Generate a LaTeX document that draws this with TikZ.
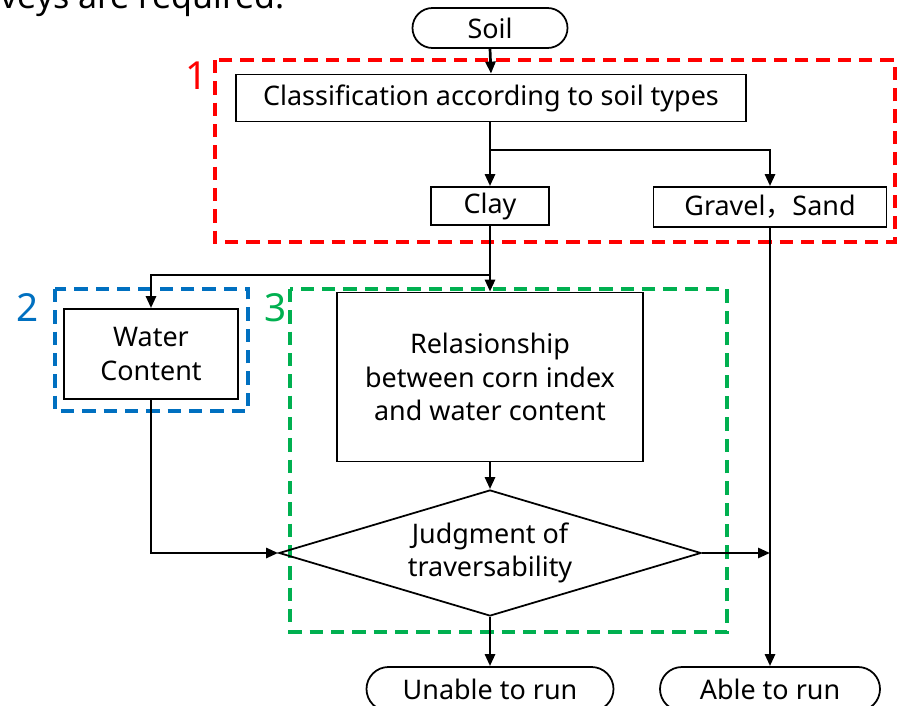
\documentclass[tikz,border=0pt]{standalone}
\usepackage{fontspec}
\setmainfont{Noto Sans}
\newfontfamily\jpfont{Noto Sans CJK JP}
\usepackage{tikz}
\usetikzlibrary{arrows.meta,shapes.misc,shapes.geometric}

\definecolor{boxred}{RGB}{255,0,0}
\definecolor{boxblue}{RGB}{0,112,192}
\definecolor{boxgreen}{RGB}{0,176,80}

\begin{document}
\begin{tikzpicture}[x=0.03cm, y=-0.03cm, >={Triangle[length=0.36cm,width=0.3cm]},
  font=\fontsize{23}{28.5}\selectfont,
  stepbox/.style={draw, line width=1.5pt, rectangle, inner sep=0pt, align=center},
  endbox/.style={draw, line width=1.5pt, rounded rectangle, inner sep=0pt},
  link/.style={->, line width=2.3pt},
  area/.style={line width=3.2pt, dash pattern=on 0.4cm off 0.24cm},
  tag/.style={font=\fontsize{33}{36}\selectfont}]
\clip (0,0) rectangle (900,706);
\useasboundingbox (0,0) rectangle (900,706);
\node[anchor=base west, inner sep=0pt, font=\fontsize{29}{32}\selectfont] (head) at (0,9) {veys are required.};
% areas
\draw[area, boxred] (215,60) rectangle (895,242);
\draw[area, boxblue] (55,289) rectangle (248,411);
\draw[area, boxgreen] (290,289) rectangle (727,632);
\node[tag, text=boxred] (n1) at (197,76) {1};
\node[tag, text=boxblue] (n2) at (28,308) {2};
\node[tag, text=boxgreen] (n3) at (276,308) {3};
% steps
\node[endbox, minimum width=4.65cm, minimum height=1.2cm] (soil) at (490,28) {Soil};
\node[stepbox, minimum width=15.3cm, minimum height=1.41cm] (class) at (491,98) {Classification according to soil types};
\node[stepbox, minimum width=3.54cm, minimum height=1.14cm] (clay) at (490,206) {Clay};
\node[stepbox, minimum width=6.99cm, minimum height=1.2cm] (gravel) at (770,207) {Gravel{\jpfont ，}Sand};
\node[stepbox, minimum width=5.22cm, minimum height=2.7cm] (water) at (151,354) {Water\\Content};
\node[stepbox, minimum width=9.18cm, minimum height=5.07cm] (rel) at (490,377) {Relasionship\\between corn index\\and water content};
\node[draw, line width=1.5pt, diamond, aspect=3.35, inner sep=0pt, minimum width=12.66cm, minimum height=3.78cm, align=center] (judge) at (490,553) {Judgment of\\traversability};
\node[endbox, minimum width=7.41cm, minimum height=1.32cm] (unable) at (490,689) {Unable to run};
\node[endbox, minimum width=6.6cm, minimum height=1.32cm] (able) at (770,689) {Able to run};
% links
\coordinate (split1) at (490,150);
\coordinate (split2) at (490,275);
\coordinate (join) at (gravel.south |- judge.east);
\draw[link] (soil.south) -- (class.north);
\draw[line width=2.3pt] (class.south -| split1) -- (split1);
\draw[link] (split1) -- (clay.north);
\draw[link] (split1) -| (gravel.north);
\draw[line width=2.3pt] (clay.south) -- (split2);
\draw[link] (split2) -| (water.north);
\draw[link] (split2) -- (rel.north);
\draw[link] (water.south) |- (judge.west);
\draw[link] (rel.south) -- (judge.north);
\draw[link] (judge.east) -- (join);
\draw[link] (gravel.south) -- (able.north);
\draw[link] (judge.south) -- (unable.north);
\end{tikzpicture}
\end{document}
